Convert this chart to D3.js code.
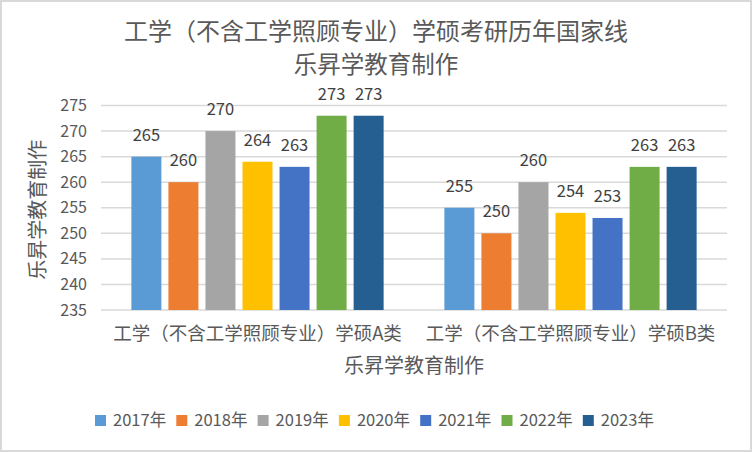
<!DOCTYPE html>
<html>
<head>
<meta charset="utf-8">
<script src="https://cdnjs.cloudflare.com/ajax/libs/d3/7.8.5/d3.min.js"></script>
<style>
  html, body { margin: 0; padding: 0; background: #fff; }
  svg { display: block; }
  text { font-family: "Noto Sans CJK SC", "Noto Sans", sans-serif; }
</style>
</head>
<body>
<svg id="chart" width="752" height="452"></svg>
<script>
// chart data
const categories = ["工学（不含工学照顾专业）学硕A类", "工学（不含工学照顾专业）学硕B类"];
const years = ["2017年", "2018年", "2019年", "2020年", "2021年", "2022年", "2023年"];
const valuesA = [265, 260, 270, 264, 263, 273, 273];
const valuesB = [255, 250, 260, 254, 253, 263, 263];
const yTicks = [235, 240, 245, 250, 255, 260, 265, 270, 275];
const titleLines = ["工学（不含工学照顾专业）学硕考研历年国家线", "乐昇学教育制作"];
const colors = ["#5B9BD5", "#ED7D31", "#A5A5A5", "#FFC000", "#4472C4", "#70AD47", "#255E91"];

const svg = d3.select("#chart");
const W = 752, H = 452;
const plot = { left: 101, right: 727, top: 105.5, bottom: 310 };

// outer border
svg.append("rect")
  .attr("x", 1).attr("y", 1)
  .attr("width", W - 2).attr("height", H - 2)
  .attr("fill", "#fff")
  .attr("stroke", "#d9d9d9")
  .attr("stroke-width", 2);

// title, two lines as separate texts
svg.append("g").selectAll("text")
  .data(titleLines)
  .enter().append("text")
  .attr("x", 376)
  .attr("y", (d, i) => 40 + i * 33)
  .attr("text-anchor", "middle")
  .attr("fill", "#595959")
  .style("font-size", (d, i) => i === 0 ? "24px" : "23.5px")
  .text((d) => d);

const y = d3.scaleLinear().domain([235, 275]).range([plot.bottom, plot.top]);
const x0 = d3.scaleBand().domain(categories).range([plot.left, plot.right]);
const x1 = d3.scaleBand().domain(years)
  .range([0, x0.bandwidth()])
  .paddingInner(0.19)
  .paddingOuter(0.82);

// gridlines
svg.append("g").selectAll("line")
  .data(yTicks)
  .enter().append("line")
  .attr("x1", plot.left).attr("x2", plot.right)
  .attr("y1", (d) => y(d)).attr("y2", (d) => y(d))
  .attr("stroke", "#d9d9d9")
  .attr("stroke-width", 1.5);

// y axis tick labels
svg.append("g").selectAll("text")
  .data(yTicks)
  .enter().append("text")
  .attr("x", 87)
  .attr("y", (d) => y(d))
  .attr("dy", "0.35em")
  .attr("text-anchor", "end")
  .attr("fill", "#595959")
  .style("font-size", "16px")
  .text((d) => d);

// bars
const series = [valuesA, valuesB];
const groups = svg.append("g").selectAll("g")
  .data(categories)
  .enter().append("g")
  .attr("transform", (d) => "translate(" + x0(d) + ",0)");

groups.selectAll("rect")
  .data((d, i) => years.map((yr, j) => ({ year: yr, value: series[i][j], idx: j })))
  .enter().append("rect")
  .attr("x", (d) => x1(d.year))
  .attr("width", x1.bandwidth())
  .attr("y", (d) => y(d.value))
  .attr("height", (d) => y(235) - y(d.value))
  .attr("fill", (d) => colors[d.idx]);

// value labels
groups.selectAll("text")
  .data((d, i) => years.map((yr, j) => ({ year: yr, value: series[i][j] })))
  .enter().append("text")
  .attr("x", (d) => x1(d.year) + x1.bandwidth() / 2)
  .attr("y", (d) => y(d.value) - 16)
  .attr("text-anchor", "middle")
  .attr("fill", "#404040")
  .style("font-size", "16.5px")
  .text((d) => d.value);

// category labels
svg.append("g").selectAll("text")
  .data(categories)
  .enter().append("text")
  .attr("x", (d) => x0(d) + x0.bandwidth() / 2)
  .attr("y", 340)
  .attr("text-anchor", "middle")
  .attr("fill", "#595959")
  .style("font-size", "18.5px")
  .text((d) => d);

// axis titles
svg.append("text")
  .attr("x", 414).attr("y", 373)
  .attr("text-anchor", "middle")
  .attr("fill", "#595959")
  .style("font-size", "20px")
  .text("乐昇学教育制作");

svg.append("text")
  .attr("transform", "translate(45," + ((plot.top + plot.bottom) / 2 + 2) + ") rotate(-90)")
  .attr("text-anchor", "middle")
  .attr("fill", "#595959")
  .style("font-size", "20px")
  .text("乐昇学教育制作");

// legend
const legend = svg.append("g").selectAll("g")
  .data(years)
  .enter().append("g")
  .attr("transform", (d, i) => "translate(" + (95 + i * 81.3) + ",415)");

legend.append("rect")
  .attr("width", 11).attr("height", 11)
  .attr("fill", (d, i) => colors[i]);

legend.append("text")
  .attr("x", 18).attr("y", 5.5)
  .attr("dy", "0.35em")
  .attr("fill", "#595959")
  .style("font-size", "16.5px")
  .text((d) => d);
</script>
</body>
</html>
